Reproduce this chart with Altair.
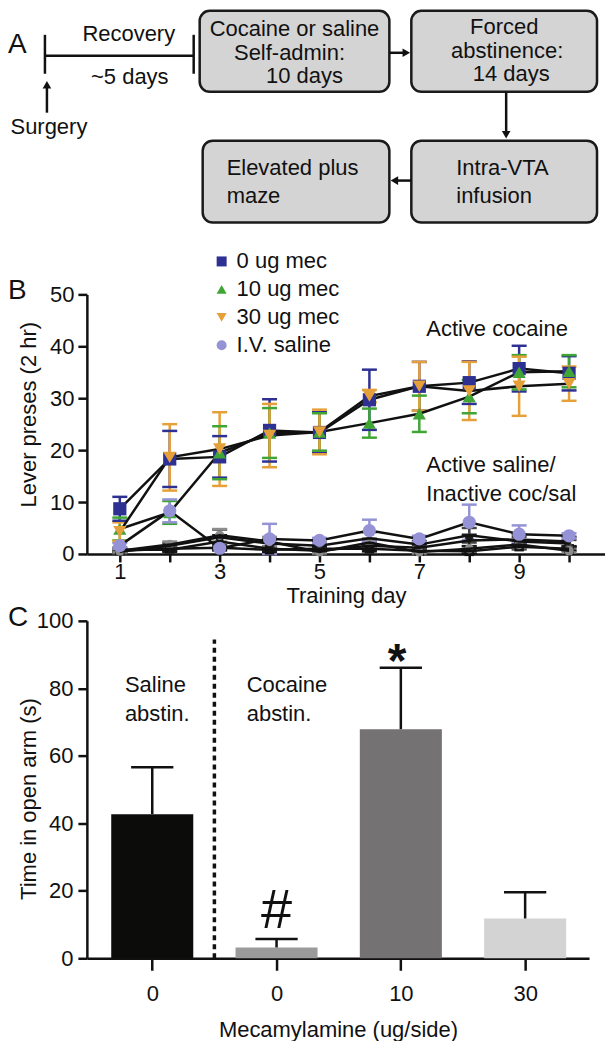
import json
import altair as alt
import pandas as pd

FONT = "Liberation Sans"
INK = "#111111"

# ---------------- Panel A : flow diagram (page-like coordinates) ----------------
box_x1 = [200, 412, 412, 203]
box_x2 = [390, 598, 598, 390]
box_y1 = [5, 5, 135, 135]
box_y2 = [86, 86, 217, 217]

center_texts = ["Cocaine or saline", "Self-admin:", "10 days",
                "Forced", "abstinence:", "14 days",
                "Recovery", "~5 days", "Surgery"]
center_x = [295, 290, 305, 505, 508, 512, 129, 130, 49]
center_y = [30, 54, 77, 28, 52, 75, 35, 78, 128]

left_texts = ["Intra-VTA", "infusion", "Elevated plus", "maze"]
left_x = [457, 457, 227, 227]
left_y = [169, 197, 169, 197]

seg_x1 = [45, 45, 194, 47, 390, 507, 412]
seg_y1 = [29, 50, 29, 107, 47, 86, 175]
seg_x2 = [45, 194, 194, 47, 405, 507, 397]
seg_y2 = [68, 50, 68, 80, 47, 126, 175]

head_x = [47, 407, 507, 395]
head_y = [79, 47, 129, 175]
head_shape = ["triangle-up", "triangle-right", "triangle-down", "triangle-left"]

# ---------------- Panel B : lever presses ----------------
days = list(range(1, 11))
groups = ["0 ug mec", "10 ug mec", "30 ug mec", "I.V. saline"]
group_colors = ["#2e3192", "#3fa535", "#e6a03a", "#9593d6"]
group_shapes = ["square", "triangle-up", "triangle-down", "circle"]

act_coc0 = [8.7, 18.3, 18.7, 23.8, 23.4, 29.7, 32.3, 33.0, 35.7, 34.8]
act_coc0_sem = [2.3, 5.4, 4.0, 6.0, 3.9, 5.8, 4.7, 4.1, 4.4, 3.3]
act_coc10 = [4.8, 8.0, 19.5, 23.3, 23.5, 25.2, 27.0, 30.3, 35.0, 35.2]
act_coc10_sem = [2.2, 2.2, 5.1, 4.8, 3.6, 2.8, 3.5, 3.2, 3.3, 3.1]
act_coc30 = [4.3, 18.6, 20.2, 22.8, 23.5, 30.4, 32.3, 31.4, 32.3, 32.8]
act_coc30_sem = [1.8, 6.4, 7.1, 6.1, 4.3, 1.2, 4.7, 5.6, 5.7, 3.3]
act_sal = [1.6, 8.3, 1.1, 2.9, 2.6, 4.5, 2.9, 6.1, 3.8, 3.5]
act_sal_sem = [0.5, 2.2, 0.4, 2.9, 0.5, 2.1, 0.6, 3.4, 1.7, 0.5]

inact_names = ["Inactive 0 ug", "Inactive 10 ug", "Inactive 30 ug", "Inactive saline"]
inact_colors = ["#111111", "#444444", "#1a1a1a", "#8c8c8c"]
inact_shapes = ["square", "triangle-up", "triangle-down", "circle"]
inact_coc0 = [0.6, 1.0, 1.2, 0.8, 1.0, 1.0, 0.6, 0.5, 1.4, 1.0]
inact_coc0_sem = [0.3, 0.4, 0.5, 0.4, 0.4, 0.5, 0.3, 0.3, 0.5, 0.4]
inact_coc10 = [0.4, 1.6, 3.2, 2.0, 1.6, 3.0, 1.8, 3.6, 2.4, 2.0]
inact_coc10_sem = [0.3, 0.5, 1.5, 0.8, 0.6, 1.2, 0.7, 1.4, 0.9, 0.7]
inact_coc30 = [0.8, 0.8, 2.4, 1.0, 0.6, 1.6, 1.2, 2.6, 2.8, 2.4]
inact_coc30_sem = [0.4, 0.4, 1.2, 0.5, 0.3, 0.8, 0.6, 1.1, 1.0, 0.9]
inact_sal = [0.6, 1.8, 3.6, 2.4, 0.4, 2.2, 0.4, 1.0, 1.8, 0.6]
inact_sal_sem = [0.3, 0.6, 1.2, 0.9, 0.3, 0.8, 0.3, 0.5, 0.7, 0.3]

b_note_texts = ["Active cocaine", "Active saline/", "Inactive coc/sal"]
b_note_x = [7.14, 7.14, 7.14]
b_note_y = [41.9, 15.8, 10.2]

# ---------------- Panel C : elevated plus maze ----------------
bar_pos = [1, 2, 3, 4]
dose_labels = ["0", "0", "10", "30"]
open_arm = [42.7, 3.2, 67.9, 11.8]
open_arm_sem = [13.9, 2.5, 18.2, 7.8]
bar_colors = ["#0c0c0a", "#9b9b9b", "#747272", "#d3d3d3"]

c_note_texts = ["Saline", "abstin.", "Cocaine", "abstin."]
c_note_x = [0.78, 0.78, 1.76, 1.76]
c_note_y = [79.0, 70.4, 79.0, 70.4]

AXIS_STYLE = dict(
    grid=False, domainColor=INK, domainWidth=2.5, tickColor=INK, tickWidth=2.5,
    labelFont=FONT, labelFontSize=22, labelColor=INK,
    titleFont=FONT, titleFontSize=22, titleFontWeight="normal", titleColor=INK,
)

# =====================================================================
# Panel A
xA = alt.Scale(domain=[87, 606], nice=False, zero=False)
yA = alt.Scale(domain=[5, 217], nice=False, zero=False, reverse=True)
WA, HA = 519, 212

boxes = pd.DataFrame({"x1": box_x1, "x2": box_x2, "y1": box_y1, "y2": box_y2})
rects = alt.Chart(boxes).mark_rect(
    cornerRadius=10, fill="#d4d4d4", stroke="#1a1a1a", strokeWidth=2.5
).encode(
    x=alt.X("x1:Q", scale=xA, axis=None), x2="x2:Q",
    y=alt.Y("y1:Q", scale=yA, axis=None), y2="y2:Q",
)

segs = pd.DataFrame({"x1": seg_x1, "y1": seg_y1, "x2": seg_x2, "y2": seg_y2})
lines_a = alt.Chart(segs).mark_rule(color=INK, strokeWidth=2.5).encode(
    x=alt.X("x1:Q", scale=xA, axis=None), x2="x2:Q",
    y=alt.Y("y1:Q", scale=yA, axis=None), y2="y2:Q",
)

heads = pd.DataFrame({"x": head_x, "y": head_y, "shape": head_shape})
heads_a = alt.Chart(heads).mark_point(filled=True, opacity=1, size=75, color=INK).encode(
    x=alt.X("x:Q", scale=xA, axis=None),
    y=alt.Y("y:Q", scale=yA, axis=None),
    shape=alt.Shape("shape:N", scale=None),
)

ctext = pd.DataFrame({"x": center_x, "y": center_y, "t": center_texts})
ctext_a = alt.Chart(ctext).mark_text(
    align="center", baseline="alphabetic", fontSize=22, font=FONT, color=INK
).encode(x=alt.X("x:Q", scale=xA, axis=None), y=alt.Y("y:Q", scale=yA, axis=None), text="t:N")

ltext = pd.DataFrame({"x": left_x, "y": left_y, "t": left_texts})
ltext_a = alt.Chart(ltext).mark_text(
    align="left", baseline="alphabetic", fontSize=22, font=FONT, color=INK
).encode(x=alt.X("x:Q", scale=xA, axis=None), y=alt.Y("y:Q", scale=yA, axis=None), text="t:N")

letter_a = alt.Chart(pd.DataFrame({"x": [8], "y": [47], "t": ["A"]})).mark_text(
    align="left", baseline="alphabetic", fontSize=28, font=FONT, color=INK
).encode(x=alt.X("x:Q", scale=xA, axis=None), y=alt.Y("y:Q", scale=yA, axis=None), text="t:N")

panelA = alt.layer(rects, lines_a, heads_a, ctext_a, ltext_a, letter_a).properties(
    width=WA, height=HA
)

# =====================================================================
# Panel B
rows = []
series_means = [act_coc0, act_coc10, act_coc30, act_sal, inact_coc0, inact_coc10, inact_coc30, inact_sal]
series_sems = [act_coc0_sem, act_coc10_sem, act_coc30_sem, act_sal_sem,
               inact_coc0_sem, inact_coc10_sem, inact_coc30_sem, inact_sal_sem]
series_names = groups + inact_names
series_cols = group_colors + inact_colors
series_kind = ["active"] * 4 + ["inactive"] * 4
for name, m, s, col, kind in zip(series_names, series_means, series_sems, series_cols, series_kind):
    for d, v, e in zip(days, m, s):
        rows.append({"series": name, "kind": kind, "day": d, "value": v,
                     "lo": max(0.0, v - e), "hi": v + e, "col": col})
dfB = pd.DataFrame(rows)

xB = alt.Scale(domain=[0.34, 10.72], nice=False, zero=False)
yB = alt.Scale(domain=[0, 50], nice=False, zero=False)
WB, HB = 519, 260

x_axis_B = alt.Axis(
    values=days, labelExpr="datum.value % 2 == 1 ? datum.label : ''",
    tickSize=8, labelPadding=0, title="Training day", titleY=49,
    titleBaseline="alphabetic", **AXIS_STYLE,
)
y_axis_B = alt.Axis(
    values=[0, 10, 20, 30, 40, 50], tickSize=9, labelPadding=4,
    title="Lever preses (2 hr)", titleX=-58.5, titleY=120,
    titleAlign="center", titleBaseline="middle", titleAngle=-90, **AXIS_STYLE,
)

baseB = alt.Chart(dfB)
err_rules = baseB.mark_rule(strokeWidth=2.5).encode(
    x=alt.X("day:Q", scale=xB, axis=x_axis_B),
    y=alt.Y("lo:Q", scale=yB, axis=y_axis_B), y2="hi:Q",
    stroke=alt.Stroke("col:N", scale=None),
)
caps_hi = baseB.transform_calculate(c1="datum.day - 0.15", c2="datum.day + 0.15").mark_rule(
    strokeWidth=2.5).encode(
    x=alt.X("c1:Q", scale=xB), x2="c2:Q", y=alt.Y("hi:Q", scale=yB),
    stroke=alt.Stroke("col:N", scale=None),
)
caps_lo = baseB.transform_calculate(c1="datum.day - 0.15", c2="datum.day + 0.15").mark_rule(
    strokeWidth=2.5).encode(
    x=alt.X("c1:Q", scale=xB), x2="c2:Q", y=alt.Y("lo:Q", scale=yB),
    stroke=alt.Stroke("col:N", scale=None),
)
lines_b = baseB.mark_line(color=INK, strokeWidth=2.5).encode(
    x=alt.X("day:Q", scale=xB), y=alt.Y("value:Q", scale=yB), detail="series:N",
)

legend_b = alt.Legend(
    title=None, orient="none", legendX=124, legendY=-44, labelFontSize=22,
    labelFont=FONT, labelColor=INK, symbolSize=100, rowPadding=6, labelOffset=4,
    padding=0, symbolStrokeWidth=0,
)
pts_active = baseB.transform_filter("datum.kind == 'active'").mark_point(
    filled=True, opacity=1, size=175, strokeWidth=0
).encode(
    x=alt.X("day:Q", scale=xB), y=alt.Y("value:Q", scale=yB),
    color=alt.Color("series:N", scale=alt.Scale(domain=groups, range=group_colors), legend=legend_b),
    shape=alt.Shape("series:N", scale=alt.Scale(domain=groups, range=group_shapes), legend=legend_b),
)

inact_layers = []
for name, col, shp in zip(inact_names, inact_colors, inact_shapes):
    inact_layers.append(
        baseB.transform_filter(alt.datum.series == name).mark_point(
            filled=True, opacity=1, size=90, color=col, shape=shp, strokeWidth=0
        ).encode(x=alt.X("day:Q", scale=xB), y=alt.Y("value:Q", scale=yB))
    )

notesB = alt.Chart(pd.DataFrame({"x": b_note_x, "y": b_note_y, "t": b_note_texts})).mark_text(
    align="left", baseline="alphabetic", fontSize=22, font=FONT, color=INK
).encode(x=alt.X("x:Q", scale=xB), y=alt.Y("y:Q", scale=yB), text="t:N")

letter_b = alt.Chart(pd.DataFrame({"t": ["B"]})).mark_text(
    align="left", baseline="alphabetic", fontSize=28, font=FONT, color=INK
).encode(x=alt.value(-79), y=alt.value(5), text="t:N")

panelB = alt.layer(err_rules, caps_hi, caps_lo, *inact_layers, lines_b, pts_active,
                   notesB, letter_b).properties(width=WB, height=HB)

# =====================================================================
# Panel C
dfC = pd.DataFrame({"pos": bar_pos, "mean": open_arm, "sem": open_arm_sem,
                    "col": bar_colors, "lab": dose_labels})
dfC["hi"] = dfC["mean"] + dfC["sem"]

xC = alt.Scale(domain=[0.474, 4.514], nice=False, zero=False)
yC = alt.Scale(domain=[0, 100], nice=False, zero=False)
WC, HC = 503, 338

label_expr_c = json.dumps(dose_labels) + "[datum.value - 1]"
x_axis_C = alt.Axis(
    values=bar_pos, labelExpr=label_expr_c, tickSize=12, labelPadding=13,
    title="Mecamylamine (ug/side)", titleY=78, titleBaseline="alphabetic", **AXIS_STYLE,
)
y_axis_C = alt.Axis(
    values=[0, 20, 40, 60, 80, 100], tickSize=9, labelPadding=5,
    title="Time in open arm (s)", titleX=-58.5, titleY=178,
    titleAlign="center", titleBaseline="middle", titleAngle=-90, **AXIS_STYLE,
)

baseC = alt.Chart(dfC)
bars = baseC.transform_calculate(b1="datum.pos - 0.33", b2="datum.pos + 0.33").mark_bar().encode(
    x=alt.X("b1:Q", scale=xC, axis=x_axis_C), x2="b2:Q",
    y=alt.Y("mean:Q", scale=yC, axis=y_axis_C), y2=alt.datum(0),
    fill=alt.Fill("col:N", scale=None),
)
errC = baseC.mark_rule(color=INK, strokeWidth=2.5).encode(
    x=alt.X("pos:Q", scale=xC), y=alt.Y("mean:Q", scale=yC), y2="hi:Q",
)
capC = baseC.transform_calculate(c1="datum.pos - 0.17", c2="datum.pos + 0.17").mark_rule(
    color=INK, strokeWidth=2.5).encode(
    x=alt.X("c1:Q", scale=xC), x2="c2:Q", y=alt.Y("hi:Q", scale=yC),
)
divider = alt.Chart(pd.DataFrame({"x": [1.5], "y1": [0], "y2": [94.5]})).mark_rule(
    color=INK, strokeWidth=3.5, strokeDash=[5, 4]
).encode(x=alt.X("x:Q", scale=xC), y=alt.Y("y1:Q", scale=yC), y2="y2:Q")

notesC = alt.Chart(pd.DataFrame({"x": c_note_x, "y": c_note_y, "t": c_note_texts})).mark_text(
    align="left", baseline="alphabetic", fontSize=22, font=FONT, color=INK
).encode(x=alt.X("x:Q", scale=xC), y=alt.Y("y:Q", scale=yC), text="t:N")

hashC = alt.Chart(pd.DataFrame({"x": [2.0], "y": [8.9], "t": ["#"]})).mark_text(
    align="center", baseline="alphabetic", fontSize=56, font=FONT, color=INK
).encode(x=alt.X("x:Q", scale=xC), y=alt.Y("y:Q", scale=yC), text="t:N")

starC = alt.Chart(pd.DataFrame({"x": [2.97], "y": [83.4], "t": ["*"]})).mark_text(
    align="center", baseline="alphabetic", fontSize=48, fontWeight="bold", font=FONT, color=INK
).encode(x=alt.X("x:Q", scale=xC), y=alt.Y("y:Q", scale=yC), text="t:N")

letter_c = alt.Chart(pd.DataFrame({"t": ["C"]})).mark_text(
    align="left", baseline="alphabetic", fontSize=28, font=FONT, color=INK
).encode(x=alt.value(-79), y=alt.value(5), text="t:N")

panelC = alt.layer(bars, divider, errC, capC, notesC, hashC, starC, letter_c).properties(
    width=WC, height=HC
)

# =====================================================================
lower = alt.vconcat(panelB, panelC, spacing=-3).resolve_scale(
    x="independent", y="independent", color="independent", shape="independent")

chart = alt.vconcat(panelA, lower, spacing=26).resolve_scale(
    x="independent", y="independent", color="independent", shape="independent"
).properties(padding=0, background="white").configure_view(stroke=None)

chart.save("out.html", embed_options={"renderer": "svg", "actions": False})
